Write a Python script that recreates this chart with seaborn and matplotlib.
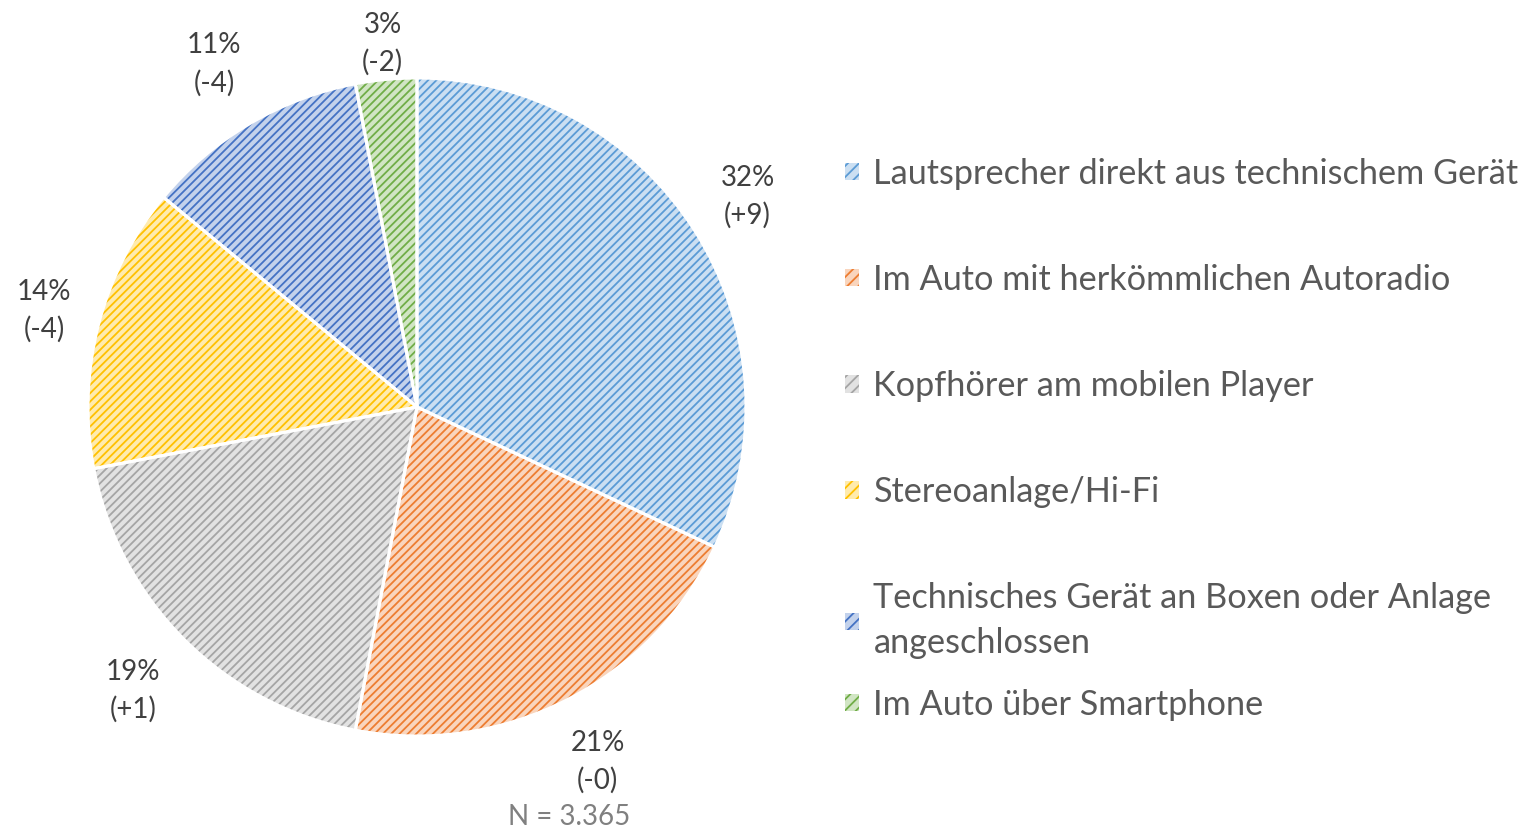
import matplotlib
matplotlib.use("Agg")
import matplotlib.pyplot as plt
import matplotlib.patches as mpatches
import matplotlib.colors as mcolors
import seaborn as sns
import numpy as np

categories = [
    "Lautsprecher direkt aus technischem Gerät",
    "Im Auto mit herkömmlichen Autoradio",
    "Kopfhörer am mobilen Player",
    "Stereoanlage/Hi-Fi",
    "Technisches Gerät an Boxen oder Anlage\nangeschlossen",
    "Im Auto über Smartphone",
]
shares = [32, 21, 19, 14, 11, 3]
changes = ["+9", "-0", "+1", "-4", "-4", "-2"]
note = "N = 3.365"

colors = ["#5B9BD5", "#ED7D31", "#A5A5A5", "#FFC000", "#4472C4", "#70AD47"]
label_dist = [1.19, 1.21, 1.22, 1.17, 1.21, 1.11]

sns.set_theme(style="white")
plt.rcParams["font.family"] = ["Lato", "DejaVu Sans"]
plt.rcParams["hatch.linewidth"] = 1.3

def tint(c, f=0.68):
    r, g, b = mcolors.to_rgb(c)
    return (r + (1 - r) * f, g + (1 - g) * f, b + (1 - b) * f)

tints = [tint(c) for c in colors]
HATCH = "////"

fig = plt.figure(figsize=(15.31, 8.30), dpi=100)
ax = fig.add_axes([88 / 1531, (830 - 736) / 830, 658 / 1531, 658 / 830])

labels = [f"{s}%\n({c})" for s, c in zip(shares, changes)]

w1, texts = ax.pie(shares, colors=tints, startangle=90, counterclock=False,
                   labels=labels, labeldistance=1.2,
                   wedgeprops=dict(linewidth=0),
                   textprops=dict(fontsize=20, color="#404040", ha="center",
                                  va="center", linespacing=1.5))
for w, t, d in zip(w1, texts, label_dist):
    th = np.deg2rad((w.theta1 + w.theta2) / 2)
    t.set_position((d * np.cos(th), d * np.sin(th)))
    t.set_horizontalalignment("center")
    t.set_verticalalignment("center")

w2, _ = ax.pie(shares, startangle=90, counterclock=False)
for w, c in zip(w2, colors):
    w.set_facecolor("none")
    w.set_edgecolor(c)
    w.set_linewidth(0)
    w.set_hatch(HATCH)

w3, _ = ax.pie(shares, startangle=90, counterclock=False,
               wedgeprops=dict(facecolor="none", edgecolor="white", linewidth=2.2))

ax.set_xlim(-1, 1)
ax.set_ylim(-1, 1)
ax.set_aspect("equal")
ax.axis("off")

handles = [mpatches.Patch(facecolor=t_, edgecolor=c, hatch="///", linewidth=0)
           for t_, c in zip(tints, colors)]

leg_kw = dict(frameon=False, fontsize=24.7, labelcolor="#595959",
              handlelength=0.4, handleheight=0.4, handletextpad=0.43,
              labelspacing=2.16, borderaxespad=0, borderpad=0)

leg1 = fig.legend(handles[:5], categories[:5], loc="upper left",
                  bbox_to_anchor=(845 / 1531, 1 - 158 / 830), **leg_kw)
for t in leg1.get_texts():
    t.set_linespacing(1.47)
leg2 = fig.legend(handles[5:], categories[5:], loc="upper left",
                  bbox_to_anchor=(845 / 1531, 1 - 689 / 830), **leg_kw)

fig.text(569 / 1531, 1 - 817 / 830, note, ha="center", va="center",
         fontsize=20, color="#808080")

fig.savefig("out.png", dpi=100, facecolor="white")
